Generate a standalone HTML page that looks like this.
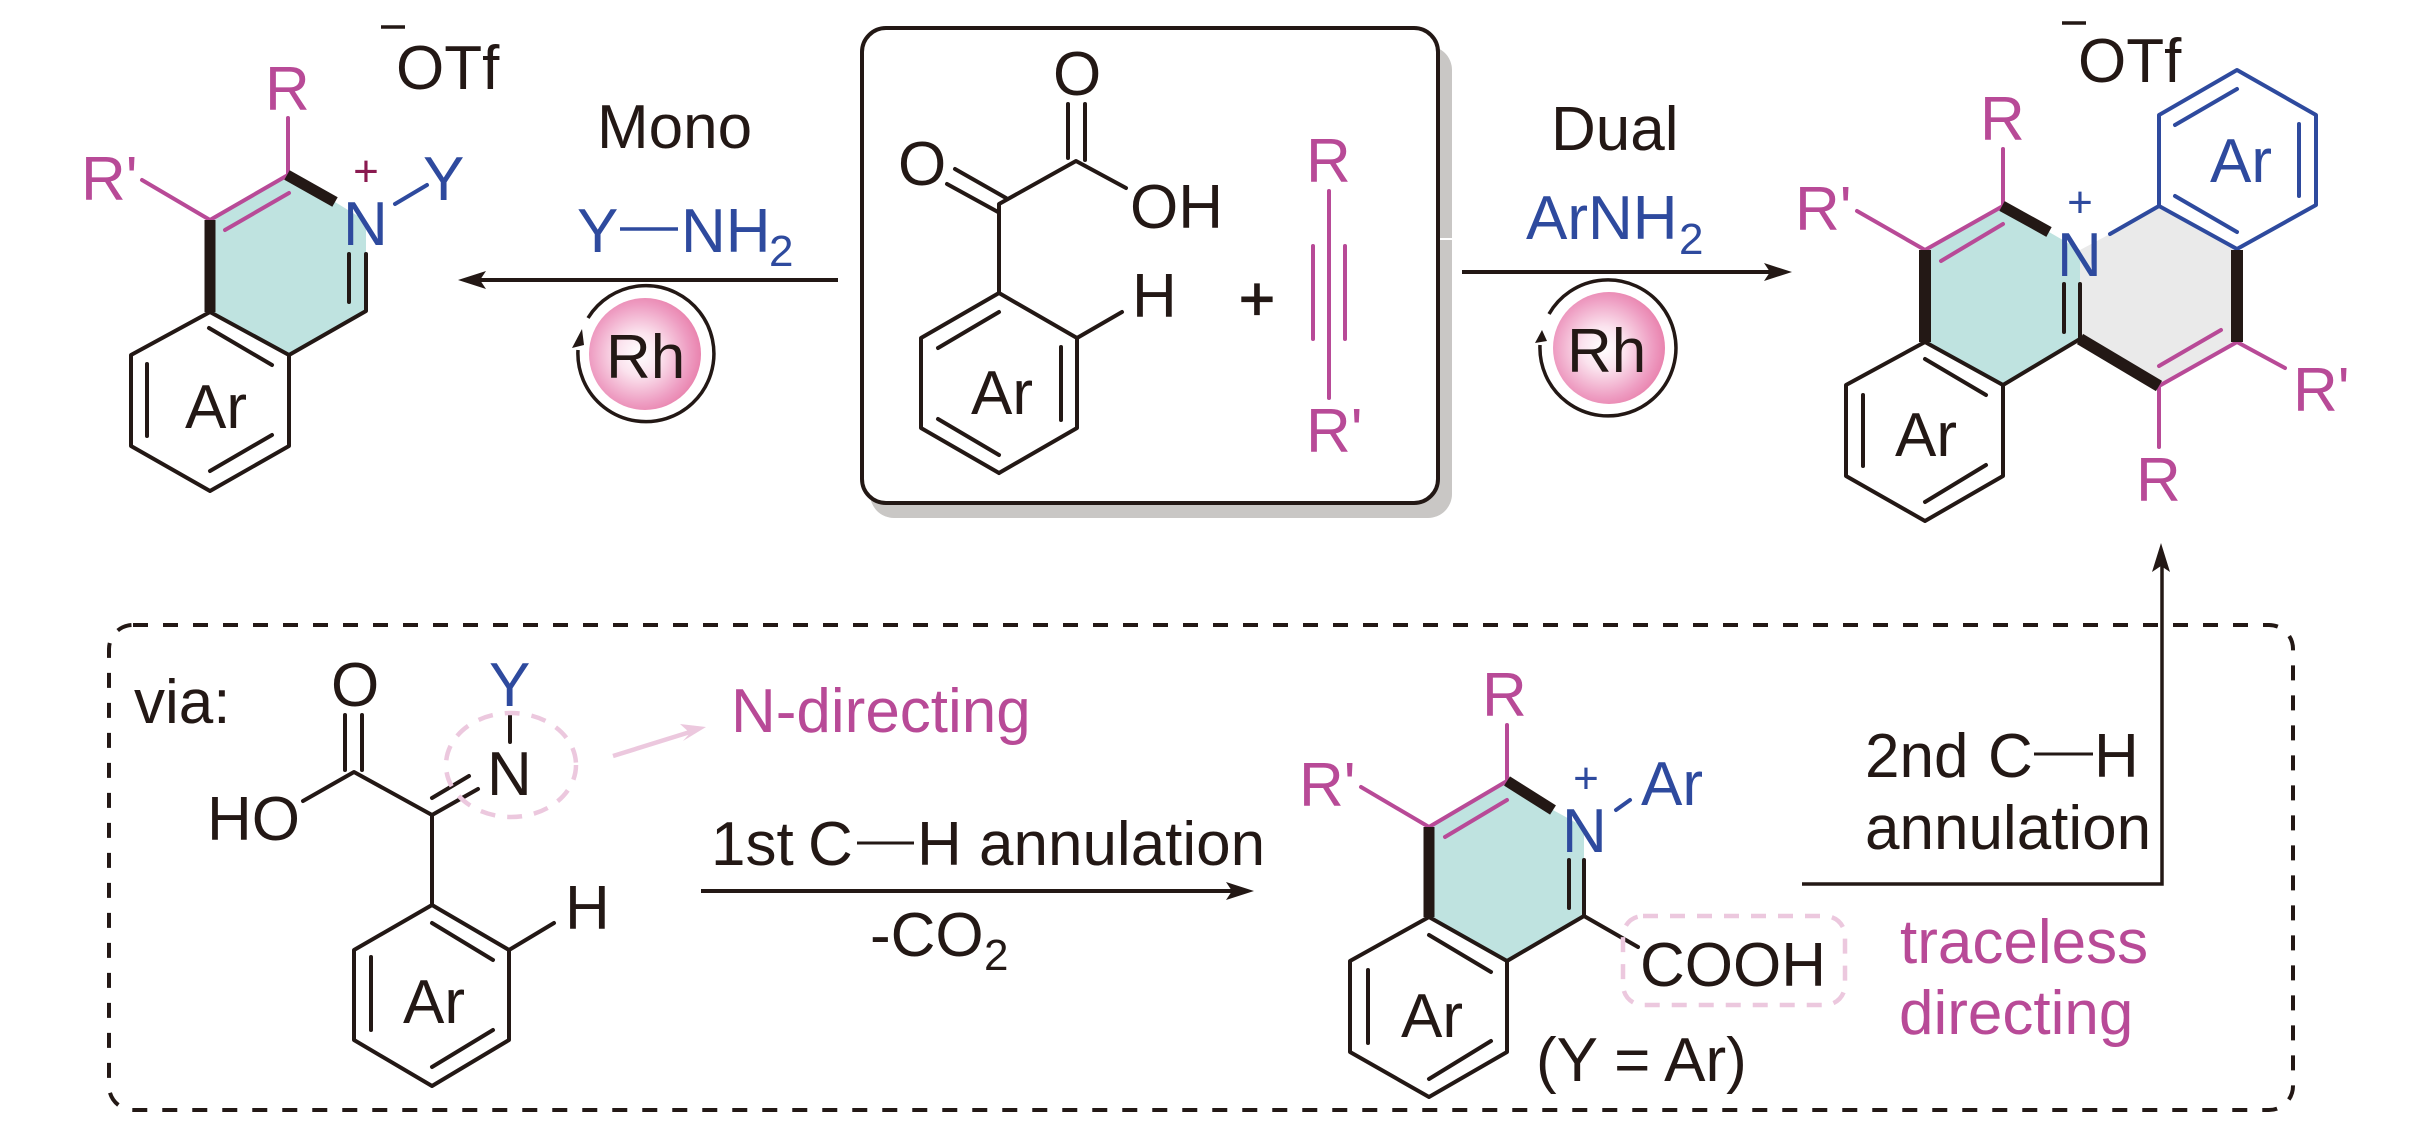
<!DOCTYPE html>
<html>
<head>
<meta charset="utf-8">
<style>
html,body{margin:0;padding:0;background:#fff}
svg{display:block}
text{font-family:"Liberation Sans",Arial,sans-serif;font-size:62px;fill:#231815}
.m{fill:#b84a97}.b{fill:#2e4a9e}.s{font-size:44px}.p{font-size:44px;text-anchor:middle}
.k{stroke:#231815}.mg{stroke:#b84a97}.bl{stroke:#2e4a9e}
g.l line,g.l polyline,g.l polygon{stroke-width:4;fill:none;stroke-linecap:round;stroke-linejoin:round}
</style>
</head>
<body>
<svg width="2421" height="1144" viewBox="0 0 2421 1144" xmlns="http://www.w3.org/2000/svg">
<defs>
<radialGradient id="rh" cx="45%" cy="50%" r="55%">
<stop offset="0" stop-color="#ffffff"/><stop offset=".35" stop-color="#fbe3ee"/><stop offset=".8" stop-color="#ee9dc2"/><stop offset="1" stop-color="#e983ae"/>
</radialGradient>
</defs>

<!-- fills -->
<polygon points="210,220 288,175 335,202 366,221 366,311 289,355 210,312" fill="#bfe3e0"/>
<polygon points="1925,250 2003,206 2049,232 2080,250 2080,339 2003,385 1925,342" fill="#bfe3e0"/>
<polygon points="2080,250 2110,234 2159,206 2237,250 2237,342 2159,386 2080,339" fill="#eaeaea"/>
<polygon points="1429,827 1507,781 1553,810 1584,827 1584,916 1507,961 1429,917" fill="#bfe3e0"/>

<!-- centre box -->
<rect x="870" y="46" width="582" height="472" rx="24" fill="#c9c7c5"/>
<rect x="1438" y="238" width="14" height="2" fill="#fff"/>
<rect x="862" y="28" width="576" height="475" rx="24" fill="#fff" stroke="#231815" stroke-width="4"/>

<!-- dashed box -->
<rect x="109" y="625" width="2184" height="485" rx="24" fill="none" stroke="#231815" stroke-width="4" stroke-dasharray="15 15"/>

<!-- mono product -->
<g class="l">
<polyline class="k" points="210,312 131,355 131,446 210,491 289,446 289,355 210,312"/>
<line class="k" x1="209" y1="328" x2="272" y2="365"/>
<line class="k" x1="147" y1="364" x2="147" y2="436"/>
<line class="k" x1="210" y1="471" x2="272" y2="435"/>
<polyline class="k" points="289,355 366,311 366,254"/>
<line class="k" x1="349" y1="254" x2="349" y2="302"/>
<line class="mg" x1="288" y1="118" x2="288" y2="175"/>
<line class="mg" x1="142" y1="180" x2="210" y2="220"/>
<line class="mg" x1="210" y1="220" x2="288" y2="175"/>
<line class="mg" x1="225" y1="230" x2="289" y2="193"/>
<line class="bl" x1="395" y1="204" x2="427" y2="185"/>
</g>
<line x1="210" y1="220" x2="210" y2="312" stroke="#231815" stroke-width="11"/>
<line x1="287" y1="175" x2="335" y2="202" stroke="#231815" stroke-width="11"/>
<line x1="381" y1="27" x2="405" y2="27" stroke="#231815" stroke-width="3.5"/>
<text class="m" x="265" y="110">R</text>
<text class="m" x="81" y="200">R'</text>
<text x="396" y="89">OTf</text>
<text class="b" x="343" y="245">N</text>
<text class="b" x="423" y="200">Y</text>
<text class="p" x="366" y="186" style="fill:#8a1a50">+</text>
<text x="185" y="428">Ar</text>
<text x="597" y="148">Mono</text>
<text class="b" x="577" y="252">Y</text>
<line x1="620" y1="229" x2="678" y2="229" stroke="#2e4a9e" stroke-width="3.5"/>
<text class="b" x="681" y="252">NH</text>
<text class="b s" x="769" y="266">2</text>
<line x1="838" y1="280" x2="480" y2="280" stroke="#231815" stroke-width="4"/>
<polygon points="458,280 486,271 480,280 486,289" fill="#231815"/>
<circle cx="645" cy="354" r="56" fill="url(#rh)"/>
<path d="M588 318 A68 68 0 1 1 578 350" fill="none" stroke="#231815" stroke-width="3.5"/>
<polygon points="582,329 572,348 584,345" fill="#231815"/>
<text x="606" y="378">Rh</text>

<!-- centre reactants -->
<g class="l">
<polyline class="k" points="999,473 921,428 921,338 999,293 1077,338 1077,428 999,473"/>
<line class="k" x1="938" y1="348" x2="999" y2="312"/>
<line class="k" x1="1061" y1="347" x2="1061" y2="420"/>
<line class="k" x1="938" y1="419" x2="999" y2="455"/>
<line class="k" x1="1077" y1="338" x2="1122" y2="312"/>
<polyline class="k" points="999,293 999,204 1076,161 1126,188"/>
<line class="k" x1="1068" y1="104" x2="1068" y2="158"/>
<line class="k" x1="1085" y1="104" x2="1085" y2="160"/>
<line class="k" x1="947" y1="184" x2="998" y2="212"/>
<line class="k" x1="955" y1="169" x2="1006" y2="198"/>
<line class="mg" x1="1329" y1="191" x2="1329" y2="398"/>
<line class="mg" x1="1313" y1="246" x2="1313" y2="339"/>
<line class="mg" x1="1345" y1="246" x2="1345" y2="339"/>
</g>
<text x="1053" y="95">O</text>
<text x="898" y="185">O</text>
<text x="1130" y="228">OH</text>
<text x="1132" y="317">H</text>
<text x="971" y="414">Ar</text>
<text x="1257" y="320" text-anchor="middle" style="stroke:#231815;stroke-width:1.2px">+</text>
<text class="m" x="1306" y="182">R</text>
<text class="m" x="1306" y="452">R'</text>

<!-- dual reaction -->
<text x="1551" y="150">Dual</text>
<text class="b" x="1526" y="239">ArNH</text>
<text class="b s" x="1679" y="254">2</text>
<line x1="1462" y1="272" x2="1770" y2="272" stroke="#231815" stroke-width="4"/>
<polygon points="1792,272 1764,263 1770,272 1764,281" fill="#231815"/>
<circle cx="1609" cy="348" r="56" fill="url(#rh)"/>
<path d="M1549 314 A68 68 0 1 1 1540 345" fill="none" stroke="#231815" stroke-width="3.5"/>
<polygon points="1542,330 1535,343 1547,341" fill="#231815"/>
<text x="1567" y="372">Rh</text>

<!-- dual product -->
<g class="l">
<polyline class="k" points="1925,342 1846,385 1846,476 1925,521 2003,476 2003,385 1925,342"/>
<line class="k" x1="1925" y1="359" x2="1986" y2="395"/>
<line class="k" x1="1863" y1="395" x2="1863" y2="466"/>
<line class="k" x1="1925" y1="502" x2="1986" y2="465"/>
<polyline class="k" points="2003,385 2080,339 2080,284"/>
<line class="k" x1="2064" y1="284" x2="2064" y2="332"/>
<line class="mg" x1="2003" y1="149" x2="2003" y2="206"/>
<line class="mg" x1="1857" y1="211" x2="1925" y2="250"/>
<line class="mg" x1="1925" y1="250" x2="2003" y2="206"/>
<line class="mg" x1="1941" y1="261" x2="2003" y2="224"/>
<line class="mg" x1="2159" y1="386" x2="2237" y2="342"/>
<line class="mg" x1="2159" y1="366" x2="2221" y2="330"/>
<line class="mg" x1="2237" y1="342" x2="2285" y2="368"/>
<line class="mg" x1="2159" y1="386" x2="2159" y2="447"/>
<polyline class="bl" points="2159,206 2159,115 2237,70 2316,115 2316,205 2237,249 2159,206"/>
<line class="bl" x1="2175" y1="125" x2="2237" y2="89"/>
<line class="bl" x1="2299" y1="124" x2="2299" y2="196"/>
<line class="bl" x1="2175" y1="196" x2="2237" y2="232"/>
<line class="bl" x1="2110" y1="234" x2="2159" y2="206"/>
</g>
<line x1="1925" y1="250" x2="1925" y2="342" stroke="#231815" stroke-width="12"/>
<line x1="2002" y1="206" x2="2049" y2="232" stroke="#231815" stroke-width="11"/>
<line x1="2080" y1="339" x2="2159" y2="386" stroke="#231815" stroke-width="12"/>
<line x1="2237" y1="250" x2="2237" y2="342" stroke="#231815" stroke-width="12"/>
<line x1="2062" y1="23" x2="2086" y2="23" stroke="#231815" stroke-width="3.5"/>
<text x="2078" y="82">OTf</text>
<text class="m" x="1980" y="140">R</text>
<text class="m" x="1795" y="230">R'</text>
<text class="b" x="2057" y="276">N</text>
<text class="p" x="2080" y="217" style="fill:#2e4a9e">+</text>
<text class="b" x="2210" y="182">Ar</text>
<text x="1895" y="456">Ar</text>
<text class="m" x="2293" y="411">R'</text>
<text class="m" x="2136" y="501">R</text>

<!-- via -->
<text x="134" y="723">via:</text>
<g class="l">
<polyline class="k" points="432,905 509,950 509,1040 432,1086 354,1040 354,950 432,905"/>
<line class="k" x1="432" y1="923" x2="493" y2="960"/>
<line class="k" x1="371" y1="957" x2="371" y2="1030"/>
<line class="k" x1="432" y1="1067" x2="493" y2="1030"/>
<line class="k" x1="509" y1="950" x2="554" y2="923"/>
<polyline class="k" points="432,905 432,815 354,772 303,801"/>
<line class="k" x1="345" y1="715" x2="345" y2="770"/>
<line class="k" x1="362" y1="715" x2="362" y2="770"/>
<line class="k" x1="432" y1="815" x2="478" y2="789"/>
<line class="k" x1="432" y1="798" x2="469" y2="776"/>
<line class="k" x1="510" y1="713" x2="510" y2="742"/>
</g>
<ellipse cx="511" cy="765" rx="65" ry="52" fill="none" stroke="#ecc8de" stroke-width="4.5" stroke-dasharray="15 12"/>
<line x1="613" y1="756" x2="690" y2="732" stroke="#ecc8de" stroke-width="4.5"/>
<polygon points="706,727 680,724 690,733 683,741" fill="#ecc8de"/>
<text x="331" y="706">O</text>
<text class="b" x="489" y="706">Y</text>
<text x="487" y="795">N</text>
<text x="207" y="840">HO</text>
<text x="565" y="929">H</text>
<text x="403" y="1023">Ar</text>
<text class="m" x="731" y="732">N-directing</text>
<text x="711" y="865">1st</text>
<text x="808" y="865">C</text>
<line x1="857" y1="843" x2="914" y2="843" stroke="#231815" stroke-width="3"/>
<text x="917" y="865">H</text>
<text x="979" y="865">annulation</text>
<line x1="701" y1="891" x2="1235" y2="891" stroke="#231815" stroke-width="4"/>
<polygon points="1254,891 1226,882 1232,891 1226,900" fill="#231815"/>
<text x="870" y="956">-CO</text>
<text class="s" x="984" y="970">2</text>

<!-- intermediate -->
<g class="l">
<polyline class="k" points="1429,917 1350,961 1350,1052 1429,1097 1507,1052 1507,961 1429,917"/>
<line class="k" x1="1429" y1="935" x2="1491" y2="972"/>
<line class="k" x1="1368" y1="970" x2="1368" y2="1043"/>
<line class="k" x1="1429" y1="1079" x2="1491" y2="1041"/>
<polyline class="k" points="1507,961 1584,916 1584,860"/>
<line class="k" x1="1569" y1="860" x2="1569" y2="908"/>
<line class="k" x1="1584" y1="916" x2="1638" y2="947"/>
<line class="mg" x1="1507" y1="725" x2="1507" y2="781"/>
<line class="mg" x1="1361" y1="787" x2="1429" y2="827"/>
<line class="mg" x1="1429" y1="827" x2="1507" y2="781"/>
<line class="mg" x1="1445" y1="837" x2="1507" y2="800"/>
<line class="bl" x1="1616" y1="810" x2="1630" y2="800"/>
</g>
<line x1="1429" y1="827" x2="1429" y2="917" stroke="#231815" stroke-width="11"/>
<line x1="1507" y1="781" x2="1553" y2="810" stroke="#231815" stroke-width="11"/>
<rect x="1623" y="916" width="222" height="89" rx="20" fill="none" stroke="#ecc8de" stroke-width="4.5" stroke-dasharray="15 12"/>
<text class="m" x="1482" y="716">R</text>
<text class="m" x="1299" y="806">R'</text>
<text class="b" x="1562" y="852">N</text>
<text class="p" x="1586" y="793" style="fill:#2e4a9e">+</text>
<text class="b" x="1641" y="805">Ar</text>
<text x="1640" y="986">COOH</text>
<text x="1401" y="1037">Ar</text>
<text x="1536" y="1081">(Y = Ar)</text>

<!-- second annulation -->
<polyline points="1802,884 2162,884 2162,565" fill="none" stroke="#231815" stroke-width="3.5"/>
<polygon points="2161,543 2152,572 2161,566 2170,572" fill="#231815"/>
<text x="1865" y="777">2nd</text>
<text x="1988" y="777">C</text>
<line x1="2034" y1="754" x2="2093" y2="754" stroke="#231815" stroke-width="3"/>
<text x="2094" y="777">H</text>
<text x="1865" y="849">annulation</text>
<text class="m" x="1900" y="963">traceless</text>
<text class="m" x="1899" y="1034">directing</text>
</svg>
</body>
</html>
